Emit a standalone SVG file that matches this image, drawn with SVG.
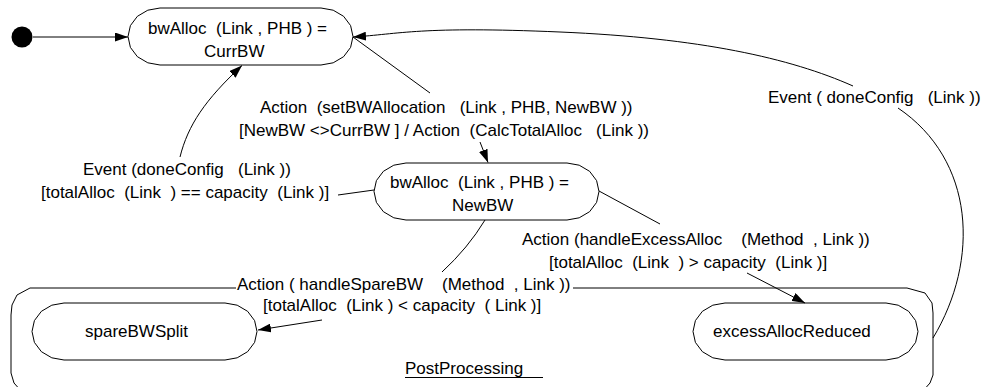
<svg xmlns="http://www.w3.org/2000/svg" xmlns:xlink="http://www.w3.org/1999/xlink" width="983" height="387" viewBox="0 0 983 387">
  <style>
    text { font-family: "Liberation Sans", Arial, sans-serif; font-size: 17px; fill: #000; white-space: pre; }
    .edge { fill: none; stroke: #000; stroke-width: 1; }
    .state { fill: #fff; stroke: #000; stroke-width: 1; }
    .mask { fill: #fff; stroke: none; }
  </style>
  <defs>
    <!-- state outline: flat top/bottom with faceted round ends -->
    <path id="stateShape" d="M32,0 H193 L205.2,2.2 L215.6,8.3 L222.6,17.6 L225,28.5 L222.6,39.4 L215.6,48.7 L205.2,54.8 L193,57 H32 L19.8,54.8 L9.4,48.7 L2.4,39.4 L0,28.5 L2.4,17.6 L9.4,8.3 L19.8,2.2 Z"/>
    <marker id="arrow" markerUnits="userSpaceOnUse" viewBox="0 0 13 9" refX="13" refY="4.5" markerWidth="13" markerHeight="9" orient="auto">
      <path d="M0,0 L13,4.5 L0,9 Z" fill="#000"/>
    </marker>
  </defs>
  <rect width="983" height="387" fill="#fff"/>

  <!-- composite state -->
  <g id="PostProcessing">
    <path class="edge" d="M30,288 H907 L925,293 L932,303 L933,313 V375 L930,383 L922,392 M30,288 L17,295 L12,305 L11,315 V373 L14,383 L22,392"/>
    <text x="405" y="374">PostProcessing</text>
    <line class="edge" x1="405" y1="377.5" x2="543" y2="377.5"/>
  </g>

  <!-- initial pseudo-state -->
  <g id="initial">
    <circle cx="22" cy="37" r="10.5" fill="#000"/>
  </g>

  <g id="CurrBW">
    <use xlink:href="#stateShape" class="state" x="128" y="8"/>
    <text x="148" y="34">bwAlloc  (Link , PHB ) =</text>
    <text x="204" y="57">CurrBW</text>
  </g>

  <g id="NewBW">
    <use xlink:href="#stateShape" class="state" x="374" y="163"/>
    <text x="390" y="188">bwAlloc  (Link , PHB ) =</text>
    <text x="452" y="211">NewBW</text>
  </g>

  <g id="spareBWSplit">
    <use xlink:href="#stateShape" class="state" x="32" y="303"/>
    <text x="85" y="337">spareBWSplit</text>
  </g>

  <g id="excessAllocReduced">
    <use xlink:href="#stateShape" class="state" x="693" y="303"/>
    <text x="713" y="337">excessAllocReduced</text>
  </g>

  <g id="connectors">
    <!-- initial -> CurrBW -->
    <path class="edge" d="M33,37 L128,37" marker-end="url(#arrow)"/>

    <!-- CurrBW -> NewBW -->
    <path class="edge" d="M353,37 L430,93"/>
    <path class="edge" d="M480,142 L488,162.5" marker-end="url(#arrow)"/>
    <text x="260" y="113">Action  (setBWAllocation   (Link , PHB, NewBW ))</text>
    <text x="239" y="136">[NewBW &lt;&gt;CurrBW ] / Action  (CalcTotalAlloc   (Link ))</text>

    <!-- NewBW -> CurrBW -->
    <path class="edge" d="M374,190 L338,195"/>
    <path class="edge" d="M180,157 C188,125 205,100 242,65.5" marker-end="url(#arrow)"/>
    <text x="83" y="175">Event (doneConfig   (Link ))</text>
    <text x="41" y="198">[totalAlloc  (Link  ) == capacity  (Link )]</text>

    <!-- NewBW -> excessAllocReduced -->
    <path class="edge" d="M599,191 L660,224"/>
    <path class="edge" d="M747,273 L805,303" marker-end="url(#arrow)"/>
    <text x="522" y="245">Action (handleExcessAlloc    (Method  , Link ))</text>
    <text x="549" y="268">[totalAlloc  (Link  ) &gt; capacity  (Link )]</text>

    <!-- NewBW -> spareBWSplit -->
    <path class="edge" d="M485,220 Q468,248 442,272"/>
    <rect class="mask" x="236" y="278" width="337" height="16"/>
    <path class="edge" d="M322,320 L258,330" marker-end="url(#arrow)"/>
    <text x="237" y="290">Action ( handleSpareBW    (Method  , Link ))</text>
    <text x="263" y="311">[totalAlloc  (Link ) &lt; capacity  ( Link )]</text>

    <!-- PostProcessing -> CurrBW -->
    <path class="edge" d="M933,338 C980,260 975,160 898,108"/>
    <path class="edge" d="M853,86 C790,58 700,38 560,32 S400,34 353,37" marker-end="url(#arrow)"/>
    <text x="768" y="103">Event ( doneConfig   (Link ))</text>
  </g>
</svg>
